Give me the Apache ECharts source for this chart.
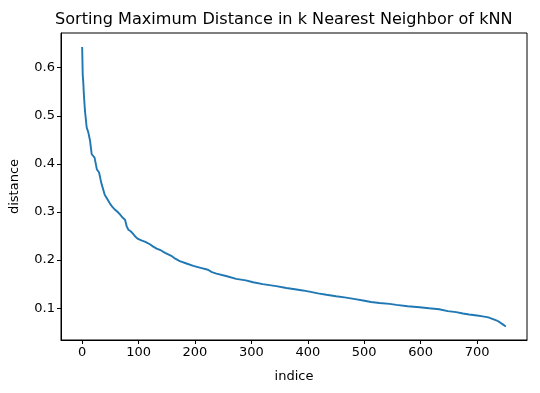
<!DOCTYPE html>
<html>
<head>
<meta charset="utf-8">
<script src="https://cdn.jsdelivr.net/npm/echarts@6/dist/echarts.min.js"></script>
<style>html,body{margin:0;padding:0;background:#fff}#c{width:540px;height:393px}</style>
</head>
<body>
<div id="c"></div>
<script>
const titleText = "Sorting Maximum Distance in k Nearest Neighbor of kNN";
const xLabel = "indice";
const yLabel = "distance";
const indices = [0,1,2,3,5,8,11,14,17,22,26,30,34,40,44,49,54,58,63,67,72,76,79,82,86,90,95,99,105,112,120,126,132,140,147,158,165,173,185,197,210,223,230,238,255,273,290,303,320,344,362,380,391,405,418,433,450,468,484,498,512,527,545,557,577,598,615,633,648,663,675,686,700,710,720,727,734,740,745,748,751];
const distances = [0.643,0.585,0.570,0.545,0.510,0.476,0.465,0.448,0.420,0.413,0.389,0.382,0.360,0.336,0.328,0.318,0.310,0.305,0.300,0.295,0.288,0.284,0.270,0.263,0.260,0.255,0.248,0.244,0.241,0.238,0.233,0.228,0.224,0.220,0.215,0.209,0.203,0.198,0.193,0.188,0.184,0.180,0.175,0.172,0.167,0.161,0.158,0.154,0.150,0.146,0.142,0.139,0.137,0.134,0.131,0.128,0.125,0.122,0.119,0.116,0.113,0.111,0.109,0.107,0.104,0.102,0.100,0.098,0.094,0.092,0.089,0.087,0.085,0.083,0.081,0.078,0.075,0.071,0.067,0.064,0.062];
const xTicks = [0,100,200,300,400,500,600,700];
const yTicks = [0.1,0.2,0.3,0.4,0.5,0.6];

const font = "DejaVu Sans";
const chart = echarts.init(document.getElementById('c'), null, {renderer:'canvas'});
chart.setOption({
  animation:false,
  title:{text:titleText,left:50,top:7,
    textStyle:{fontFamily:font,fontSize:16.1,fontWeight:'normal',color:'#000'}},
  grid:{left:61,right:13,top:33,bottom:53,show:true,borderColor:'#000',borderWidth:1,containLabel:false},
  xAxis:{type:'value',min:-37.5,max:788.5,
    name:xLabel,nameLocation:'middle',nameGap:30,
    nameTextStyle:{fontFamily:font,fontSize:13,color:'#000'},
    axisLine:{show:true,onZero:false,lineStyle:{color:'#000',width:1}},
    axisTick:{show:true,inside:false,length:4,lineStyle:{color:'#000'},customValues:xTicks},
    axisLabel:{fontFamily:font,fontSize:13,color:'#000',margin:6,customValues:xTicks},
    splitLine:{show:false}},
  yAxis:{type:'value',min:0.034,max:0.672,
    name:yLabel,nameLocation:'middle',nameGap:40,nameRotate:90,
    nameTextStyle:{fontFamily:font,fontSize:13,color:'#000'},
    axisLine:{show:true,onZero:false,lineStyle:{color:'#000',width:1}},
    axisTick:{show:true,inside:false,length:4,lineStyle:{color:'#000'},customValues:yTicks},
    axisLabel:{fontFamily:font,fontSize:13,color:'#000',margin:6,customValues:yTicks,
      formatter:v=>v.toFixed(1)},
    splitLine:{show:false}},
  series:[{type:'line',data:indices.map((x,i)=>[x,distances[i]]),showSymbol:false,symbol:'none',
    lineStyle:{color:'#1f77b4',width:1.9},itemStyle:{color:'#1f77b4'}}]
});
</script>
</body>
</html>
